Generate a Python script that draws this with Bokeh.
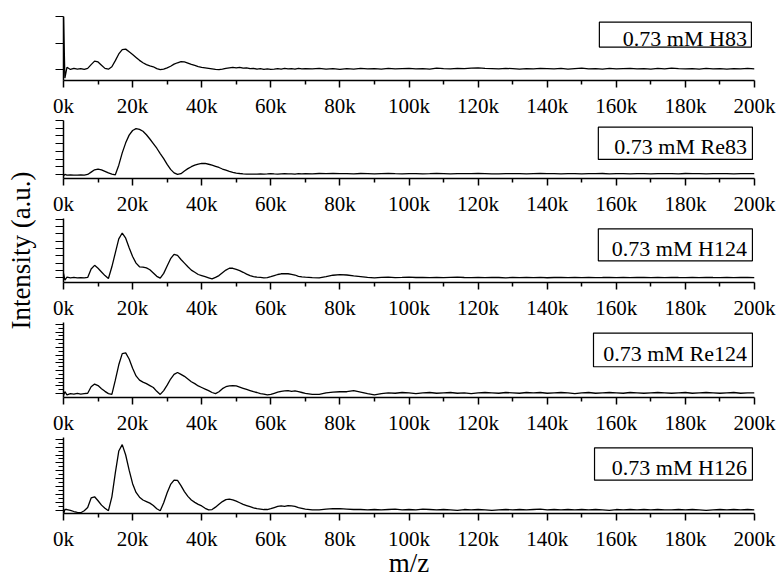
from math import pi
from bokeh.plotting import figure
from bokeh.layouts import column, row
from bokeh.models import Label, BoxAnnotation, FixedTicker, Range1d, CustomJSTickFormatter
from bokeh.core.properties import value
from bokeh.embed import file_html
from bokeh.resources import INLINE

FONT = "Liberation Serif"

# m/z sampling positions (in thousands)
mz_k = [0, 0.4] + list(range(1, 71)) + list(range(72, 201, 2))

h83 = [2.0, -0.3,
       0.1, 0.02, 0.06, 0.03, 0.05, 0.02, 0.06, 0.2, 0.33, 0.3,
       0.18, 0.06, 0.03, 0.12, 0.35, 0.6, 0.76, 0.78, 0.68, 0.58,
       0.47, 0.36, 0.27, 0.2, 0.15, 0.12, 0.05, 0.01, 0.03, 0.08,
       0.14, 0.22, 0.27, 0.31, 0.3, 0.26, 0.21, 0.17, 0.13, 0.1,
       0.08, 0.06, 0.04, 0.02, 0.01, 0.03, 0.06, 0.08, 0.1, 0.08,
       0.1, 0.07, 0.08, 0.05, 0.06, 0.03, 0.05, 0.02, 0.04, 0.02,
       0.03, 0.05, 0.03, 0.06, 0.04, 0.05, 0.03, 0.06, 0.04, 0.05,
       0.04, 0.06, 0.03, 0.05, 0.02, 0.05, 0.03, 0.06, 0.04, 0.05,
       0.03, 0.06, 0.04, 0.05, 0.06, 0.04, 0.05, 0.03, 0.07, 0.05,
       0.04, 0.06, 0.05, 0.07, 0.08, 0.06, 0.05, 0.04, 0.06, 0.05,
       0.03, 0.05, 0.04, 0.06, 0.05, 0.04, 0.06, 0.03, 0.05, 0.07,
       0.04, 0.05, 0.03, 0.06, 0.04, 0.05, 0.06, 0.04, 0.05, 0.03,
       0.06, 0.04, 0.07, 0.05, 0.04, 0.05, 0.03, 0.06, 0.04, 0.05,
       0.03, 0.05, 0.04, 0.06, 0.04]

re83 = [-0.2, 0.0,
        -0.1, -0.05, -0.1, -0.1, -0.05, -0.1, 0.0, 0.3, 0.6, 0.7,
        0.6, 0.4, 0.2, 0.05, -0.05, 1.2, 2.8, 4.1, 5.1, 5.7,
        5.95, 5.85, 5.6, 5.15, 4.6, 4.0, 3.4, 2.7, 2.05, 1.3,
        0.65, 0.2, 0.0, 0.1, 0.45, 0.75, 1.0, 1.2, 1.35, 1.44,
        1.42, 1.32, 1.2, 1.05, 0.9, 0.7, 0.55, 0.4, 0.28, 0.18,
        0.12, 0.08, 0.05, 0.05, 0.03, 0.05, 0.08, 0.04, 0.06, 0.1,
        0.07, 0.05, 0.08, 0.1, 0.06, 0.08, 0.05, 0.09, 0.07, 0.1,
        0.08, 0.12, 0.1, 0.13, 0.09, 0.11, 0.08, 0.12, 0.1, 0.07,
        0.1, 0.12, 0.09, 0.08, 0.11, 0.1, 0.07, 0.09, 0.12, 0.1,
        0.08, 0.1, 0.11, 0.09, 0.12, 0.1, 0.08, 0.07, 0.1, 0.09,
        0.11, 0.08, 0.1, 0.12, 0.09, 0.1, 0.07, 0.09, 0.11, 0.08,
        0.1, 0.09, 0.12, 0.08, 0.1, 0.11, 0.07, 0.09, 0.1, 0.08,
        0.11, 0.09, 0.1, 0.08, 0.12, 0.1, 0.09, 0.07, 0.1, 0.09,
        0.11, 0.08, 0.1, 0.09, 0.1]

h124 = [0.6, -0.3,
        0.1, 0.0, 0.05, 0.0, 0.03, 0.0, 0.05, 1.2, 1.7, 1.3,
        0.8, 0.3, -0.1, 1.5, 3.4, 5.3, 6.1, 5.4, 4.1, 2.9,
        2.0, 1.5, 1.45, 1.35, 1.1, 0.65, 0.2, -0.05, 0.6, 1.6,
        2.6, 3.2, 3.05, 2.5, 2.0, 1.5, 1.05, 0.75, 0.45, 0.3,
        0.15, 0.0, -0.15, 0.05, 0.3, 0.7, 1.05, 1.3, 1.3, 1.15,
        0.98, 0.75, 0.5, 0.3, 0.15, 0.08, 0.05, 0.0, 0.02, 0.15,
        0.3, 0.45, 0.55, 0.58, 0.55, 0.48, 0.38, 0.2, 0.12, 0.08,
        0.02, 0.0, 0.15, 0.35, 0.43, 0.38, 0.25, 0.15, 0.05, 0.0,
        0.05, 0.08, 0.03, 0.06, 0.1, 0.04, 0.07, 0.03, 0.06, 0.02,
        0.05, 0.08, 0.04, 0.02, 0.06, 0.03, 0.07, 0.04, 0.0, 0.05,
        0.02, 0.06, 0.03, 0.05, 0.01, 0.04, 0.06, 0.02, 0.05, 0.03,
        0.06, 0.02, 0.04, 0.07, 0.03, 0.05, 0.02, 0.04, 0.06, 0.03,
        0.05, 0.02, 0.06, 0.04, 0.03, 0.05, 0.02, 0.06, 0.04, 0.03,
        0.05, 0.02, 0.04, 0.06, 0.03]

re124 = [-0.5, 0.5,
         -0.3, 0.0, -0.1, 0.1, -0.1, 0.0, 0.1, 1.8, 2.5, 2.1,
         1.3, 0.6, 0.0, -0.2, 3.5, 7.5, 10.4, 10.6, 9.0, 6.6,
         4.6, 3.5, 3.0, 2.6, 2.1, 1.6, 0.6, -0.2, 0.8, 2.2,
         3.8, 5.0, 5.5, 5.0, 4.5, 3.8, 3.1, 2.6, 2.0, 1.6,
         1.2, 0.8, 0.3, 0.0, 0.5, 1.3, 1.8, 2.0, 2.1, 2.0,
         1.7, 1.4, 1.1, 0.8, 0.5, 0.3, 0.0, -0.1, -0.3, -0.2,
         0.1, 0.4, 0.6, 0.7, 0.8, 0.6, 0.7, 0.5, 0.3, 0.1,
         -0.2, -0.2, 0.2, 0.4, 0.5, 0.5, 0.8, 0.4, 0.0, -0.3,
         0.0, 0.2, 0.1, 0.3, 0.2, 0.0, 0.2, 0.3, 0.1, 0.2,
         0.3, 0.1, 0.2, 0.0, 0.2, 0.3, 0.2, 0.1, 0.3, 0.2,
         0.1, 0.3, 0.2, 0.3, 0.1, 0.2, 0.3, 0.2, 0.0, 0.2,
         0.3, 0.1, 0.2, 0.3, 0.2, 0.1, 0.3, 0.2, 0.1, 0.2,
         0.3, 0.2, 0.1, 0.2, 0.3, 0.1, 0.2, 0.3, 0.2, 0.1,
         0.2, 0.3, 0.1, 0.2, 0.2]

h126 = [-0.8, 0.3,
        0.3, 0.1, -0.2, -0.4, -0.5, 0.0, 0.8, 3.2, 3.5, 2.5,
        1.4, 0.6, 0.0, 3.5, 9.5, 15.0, 16.6, 14.0, 10.2, 6.8,
        4.6, 3.4, 2.7, 2.3, 1.9, 1.3, 0.5, 0.0, 2.0, 4.5,
        6.6, 7.7, 7.6, 6.3, 4.8, 3.6, 2.7, 2.1, 1.6, 1.2,
        0.6, 0.2, 0.3, 0.9, 1.6, 2.3, 2.8, 2.9, 2.7, 2.4,
        2.0, 1.6, 1.3, 1.0, 0.7, 0.5, 0.4, 0.3, 0.3, 0.5,
        0.8, 1.1, 1.2, 1.1, 1.3, 1.2, 1.1, 0.8, 0.6, 0.4,
        0.2, 0.2, 0.4, 0.5, 0.5, 0.4, 0.3, 0.3, 0.2, 0.3,
        0.2, 0.3, 0.4, 0.2, 0.3, 0.2, 0.4, 0.3, 0.2, 0.3,
        0.2, 0.1, 0.3, 0.2, 0.3, 0.2, 0.1, 0.2, 0.3, 0.2,
        0.3, 0.2, 0.3, 0.4, 0.2, 0.3, 0.2, 0.3, 0.2, 0.3,
        0.2, 0.3, 0.2, 0.1, 0.3, 0.2, 0.3, 0.2, 0.3, 0.2,
        0.3, 0.2, 0.2, 0.3, 0.2, 0.3, 0.2, 0.1, 0.2, 0.3,
        0.2, 0.3, 0.2, 0.3, 0.2]

series = [h83, re83, h124, re124, h126]
panel_labels = ["0.73 mM H83", "0.73 mM Re83", "0.73 mM H124",
                "0.73 mM Re124", "0.73 mM H126"]

x_ticks = [0, 20, 40, 60, 80, 100, 120, 140, 160, 180, 200]
x_minor = [10, 30, 50, 70, 90, 110, 130, 150, 170, 190]
x_tick_labels = ["0k", "20k", "40k", "60k", "80k", "100k", "120k",
                 "140k", "160k", "180k", "200k"]
y_title = "Intensity (a.u.)"
x_title = "m/z"

# per-panel layout / style
y_lo = [-0.393, -0.53, -0.64, -1.0, -0.7]
y_hi = [2.0, 7.0, 8.08, 18.5, 18.4]
y_major = [[0, 1, 2], list(range(0, 8)), list(range(0, 9)),
           list(range(0, 19, 2)), list(range(0, 19, 2))]
y_minor = [[], [], [], list(range(1, 19, 2)), list(range(1, 19, 2))]
heights = [120, 98, 104, 115, 143]
tops = [16, 0, 0, 0, 0]
bottoms = [37, 37, 36, 37, 61]
box_left = [155.1, 154.8, 154.8, 153.4, 153.7]
box_right = [199.1, 199.4, 199.4, 199.4, 199.4]
box_top = [1.786, 6.13, 6.67, 15.75, 15.8]
box_bottom = [0.857, 1.94, 2.31, 7.0, 7.67]
label_y = [1.17, 3.6, 4.04, 10.5, 10.9]

LEFT_W = 40

# left strip carrying the shared y title
side = figure(width=LEFT_W, height=580, x_range=Range1d(0, LEFT_W),
              y_range=Range1d(0, 580), output_backend="svg",
              toolbar_location=None, min_border=0)
side.axis.visible = False
side.grid.visible = False
side.outline_line_color = None
side.text(x=[LEFT_W / 2], y=[330], text=[y_title], angle=pi / 2,
          text_align="center", text_baseline="middle",
          text_font=value(FONT), text_font_size="27px", text_color="black")

figs = []
for i in range(5):
    p = figure(width=783 - LEFT_W, height=heights[i],
               x_range=Range1d(0, 200), y_range=Range1d(y_lo[i], y_hi[i]),
               output_backend="svg", toolbar_location=None,
               min_border_left=63 - LEFT_W, min_border_right=29,
               min_border_top=tops[i], min_border_bottom=bottoms[i])
    p.line(mz_k, series[i], line_color="black", line_width=1.3)
    p.xgrid.visible = False
    p.ygrid.visible = False
    p.outline_line_color = None

    xa = p.xaxis[0]
    xa.ticker = FixedTicker(ticks=x_ticks, minor_ticks=x_minor)
    xa.major_label_overrides = {t: l for t, l in zip(x_ticks, x_tick_labels)}
    xa.major_label_text_font = FONT
    xa.major_label_text_font_size = "21px"
    xa.major_label_text_color = "black"
    xa.major_label_standoff = 6
    xa.major_tick_out = 7
    xa.major_tick_in = 0
    xa.minor_tick_out = 4
    xa.minor_tick_in = 0
    xa.axis_line_width = 1.5
    xa.axis_line_color = "black"
    xa.major_tick_line_color = "black"
    xa.minor_tick_line_color = "black"
    xa.major_tick_line_width = 1.5
    xa.minor_tick_line_width = 1.5

    ya = p.yaxis[0]
    ya.ticker = FixedTicker(ticks=y_major[i], minor_ticks=y_minor[i])
    ya.formatter = CustomJSTickFormatter(code="return '';")
    ya.major_label_text_font_size = "1px"
    ya.major_label_standoff = 0
    ya.major_tick_out = 8
    ya.major_tick_in = 0
    ya.minor_tick_out = 5
    ya.minor_tick_in = 0
    ya.axis_line_width = 1.5
    ya.axis_line_color = "black"
    ya.major_tick_line_color = "black"
    ya.minor_tick_line_color = "black"
    ya.major_tick_line_width = 1.2
    ya.minor_tick_line_width = 1.2

    if i == 4:
        xa.axis_label = x_title
        xa.axis_label_text_font = FONT
        xa.axis_label_text_font_size = "27px"
        xa.axis_label_text_font_style = "normal"
        xa.axis_label_text_color = "black"
        xa.axis_label_standoff = -6

    p.add_layout(BoxAnnotation(left=box_left[i], right=box_right[i],
                               top=box_top[i], bottom=box_bottom[i],
                               fill_color="white", fill_alpha=1.0,
                               line_color="black", line_width=1.2,
                               line_alpha=1.0))
    p.add_layout(Label(x=197.8, y=label_y[i], text=panel_labels[i],
                       text_align="right", text_baseline="middle",
                       text_font=FONT, text_font_size="22px",
                       text_color="black"))
    figs.append(p)

layout = row(side, column(*figs, spacing=0), spacing=0)
open("out.html", "w").write(file_html(layout, INLINE))
